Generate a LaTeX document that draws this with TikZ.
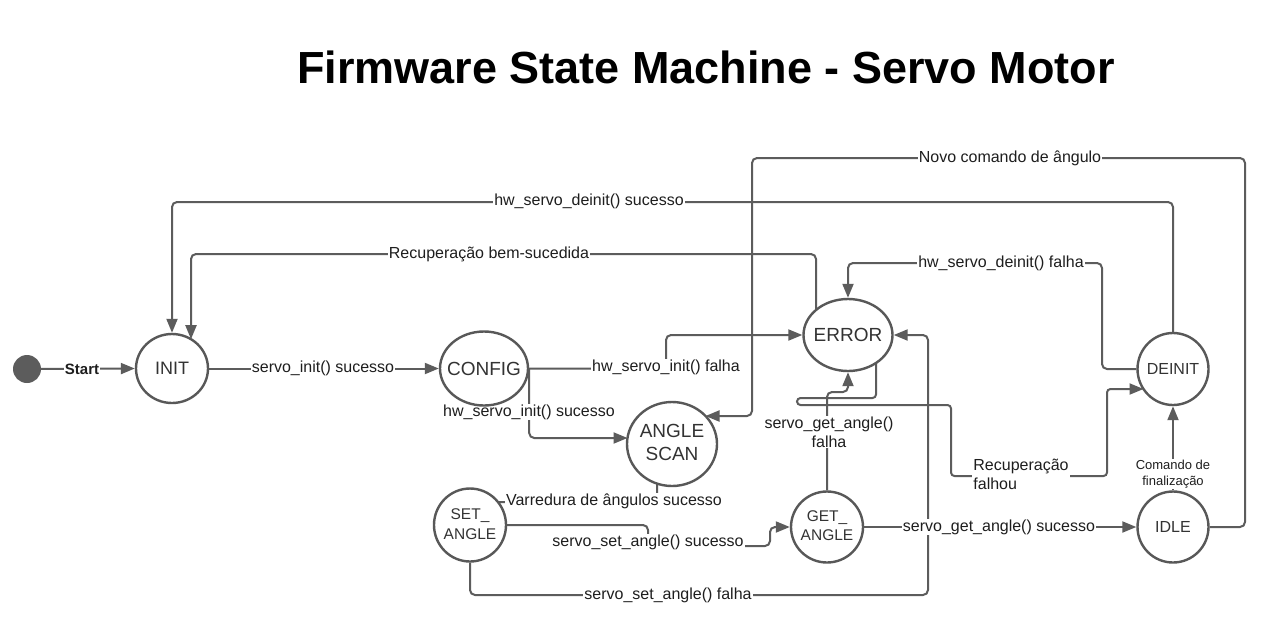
\documentclass[tikz,border=0pt]{standalone}
\usepackage{fontspec}
\setmainfont{Liberation Sans}
\usetikzlibrary{arrows.meta,shapes.geometric,calc,backgrounds}
\definecolor{linec}{HTML}{5C5C5C}
\definecolor{stroke}{HTML}{585858}
\definecolor{txt}{HTML}{1E1E1E}
\definecolor{stxt}{HTML}{333333}
\newcommand{\mybox}[1]{\makebox[0pt]{\begin{tabular}{@{}c@{}}#1\end{tabular}}}
\newcommand{\onebox}[1]{\makebox[0pt]{#1}}
\begin{document}
\begin{tikzpicture}[x=1pt,y=-1pt,
  state/.style={ellipse, draw=stroke, line width=2.4pt, fill=white, inner sep=0pt, text=stxt},
  big/.style={font=\fontsize{19}{23}\selectfont},
  mid/.style={font=\fontsize{16}{20}\selectfont},
  edge/.style={draw=linec, line width=2pt, rounded corners=5pt},
  arr/.style={-{Triangle[length=14pt,width=11pt]}},
  lab/.style={fill=white, inner xsep=1pt, inner ysep=0.5pt, text=txt, font=\fontsize{16}{19}\selectfont},
]
\useasboundingbox (0,0) rectangle (1280,641);

% title
\node[font=\fontsize{45}{50}\selectfont\bfseries, text=black] (title) at (706,67) {Firmware State Machine - Servo Motor};

% states
\node[circle, fill=linec, minimum size=28pt, inner sep=0pt] (start) at (27,369) {};
\node[state, minimum width=72pt, minimum height=69pt, font=\fontsize{18}{22}\selectfont] (init) at (172,368.5) {\onebox{INIT}};
\node[state, minimum width=88pt, minimum height=74pt, big] (config) at (484,368.5) {\onebox{CONFIG}};
\node[state, minimum width=89pt, minimum height=72pt, big] (error) at (848,335) {\onebox{ERROR}};
\node[state, minimum width=71pt, minimum height=72pt, mid] (deinit) at (1173,369) {\onebox{DEINIT}};
\node[state, minimum width=90pt, minimum height=84pt, big] (ascan) at (672,444) {\raisebox{7pt}{\mybox{ANGLE\\SCAN}}};
\node[state, minimum width=72pt, minimum height=73pt, font=\fontsize{15.5}{20}\selectfont] (setang) at (470,525) {\raisebox{2pt}{\mybox{SET\_\\ANGLE}}};
\node[state, minimum width=72pt, minimum height=71pt, font=\fontsize{15.5}{19}\selectfont] (getang) at (827,527) {\raisebox{1pt}{\mybox{GET\_\\ANGLE}}};
\node[state, minimum width=71pt, minimum height=71pt, mid] (idle) at (1173,527) {\onebox{IDLE}};

\begin{scope}[on background layer]
\fill[white] (0,0) rectangle (1280,641);
% connectors
\draw[edge,arr] (start) -- (init.west);
\draw[edge,arr] (init.east) -- (config.west);
\draw[edge,arr] (config.east) -- (666,368.5) |- (error.west);
\draw[edge,arr] (config.east) |- ($(ascan)+(-44.5,-6)$);
\draw[edge,arr] (idle.east) -| (1245,158) -| (752,416) -- ($(ascan)+(33.5,-28)$);
\draw[edge,arr] (deinit.north) |- (172,202) -- (init.north);
\draw[edge,arr] ($(error)+(-32,0)$) |- (191,254) -- ($(init)+(19,-29.3)$);
\draw[edge,arr] (deinit.west) -| (1102,263) -| (error.north);
\draw[edge,arr] (getang.north) |- (848,392) -- (error.south);
\draw[edge,arr,rounded corners=3.5pt] ($(error)+(28,0)$) |- (797,398) |- (951,405) |- (1107,476) |- ($(deinit)+(-29.5,20)$);
\draw[edge,arr] (setang.east) -- (648,525) |- (770,546) |- (getang.west);
\draw[edge] ($(ascan)+(-15,0)$) |- ($(setang)+(27.7,-23)$);
\draw[edge,arr] (getang.east) -- (idle.west);
\draw[edge,arr] (idle.north) -- (deinit.south);
\draw[edge,arr] (setang.south) |- (928,595) |- (error.east);
% labels
\node[lab, font=\fontsize{15}{18}\selectfont\bfseries] (lstart) at (82,369) {Start};
\node[lab] (l2) at (323,368.5) {servo\_init() sucesso};
\node[lab] (l3) at (666,367) {hw\_servo\_init() falha};
\node[lab] (l4) at (529,412) {hw\_servo\_init() sucesso};
\node[lab] (l5) at (1010,158) {Novo comando de ângulo};
\node[lab] (l6) at (589,201) {hw\_servo\_deinit() sucesso};
\node[lab] (l7) at (489,254) {Recuperação bem-sucedida};
\node[lab] (l8) at (1001,263) {hw\_servo\_deinit() falha};
\node[lab, align=center] (l9) at (829,432) {servo\_get\_angle()\\falha};
\node[lab, align=left] (l10) at (1021,474) {Recuperação\\falhou};
\node[lab] (l11) at (648,542) {servo\_set\_angle() sucesso};
\node[lab] (l12) at (614,501) {Varredura de ângulos sucesso};
\node[lab] (l13) at (999,527) {servo\_get\_angle() sucesso};
\node[lab, align=center, font=\fontsize{13}{16}\selectfont] (l14) at (1173,474) {Comando de\\finalização};
\node[lab] (l15) at (668,595) {servo\_set\_angle() falha};
\end{scope}
\end{tikzpicture}
\end{document}
